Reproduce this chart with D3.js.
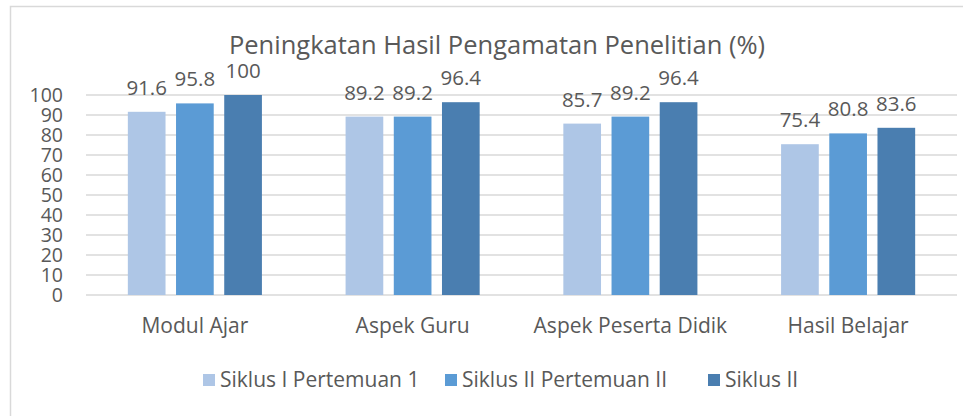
<!DOCTYPE html>
<html>
<head>
<meta charset="utf-8">
<script src="https://cdn.jsdelivr.net/npm/d3@7"></script>
<style>
  body { margin: 0; background: #fff; }
  svg text { font-family: 'Open Sans', sans-serif; fill: #595959; }
</style>
</head>
<body>
<div id="chart"></div>
<script>
const categories = ['Modul Ajar', 'Aspek Guru', 'Aspek Peserta Didik', 'Hasil Belajar'];
const seriesNames = ['Siklus I Pertemuan 1', 'Siklus II Pertemuan II', 'Siklus II'];
const siklus1 = [91.6, 89.2, 85.7, 75.4];
const siklus2p2 = [95.8, 89.2, 89.2, 80.8];
const siklus2 = [100, 96.4, 96.4, 83.6];
const yTicks = [0, 10, 20, 30, 40, 50, 60, 70, 80, 90, 100];

const series = [siklus1, siklus2p2, siklus2];
const colors = ['#AEC6E6', '#5B9BD5', '#4A7EB0'];

const w = 973;
const h = 416;

const svg = d3.select('#chart')
              .append('svg')
              .attr('width', w)
              .attr('height', h);

// chart border (top and left visible)
svg.append('path')
   .attr('d', 'M10.5,416 V6.5 H963')
   .attr('fill', 'none')
   .attr('stroke', '#D9D9D9')
   .attr('stroke-width', 1.5);

svg.append('text')
   .text('Peningkatan Hasil Pengamatan Penelitian (%)')
   .attr('x', 497)
   .attr('y', 54)
   .attr('text-anchor', 'middle')
   .attr('font-size', 25.5);

const x0 = d3.scaleBand()
             .domain(categories)
             .range([86, 957]);
const x1 = d3.scaleBand()
             .domain(d3.range(series.length))
             .range([0, x0.bandwidth()])
             .paddingInner(0.218)
             .paddingOuter(0.868);
const yScale = d3.scaleLinear()
                 .domain([0, 100])
                 .range([295, 95]);

// gridlines
svg.append('g')
   .selectAll('line')
   .data(yTicks)
   .enter()
   .append('line')
   .attr('x1', 86)
   .attr('x2', 957)
   .attr('y1', d => yScale(d))
   .attr('y2', d => yScale(d))
   .attr('stroke', '#D9D9D9')
   .attr('stroke-width', 1.5);

const yAxis = d3.axisLeft(yScale)
                .tickValues(yTicks)
                .tickSize(0)
                .tickPadding(0);
const gy = svg.append('g')
              .attr('transform', 'translate(63, 0)')
              .call(yAxis);
gy.select('.domain').remove();
gy.selectAll('text')
  .attr('font-size', 19.5)
  .attr('font-family', null)
  .attr('fill', null);

const groups = svg.append('g')
                  .selectAll('g')
                  .data(categories)
                  .enter()
                  .append('g')
                  .attr('transform', d => 'translate(' + x0(d) + ',0)');

groups.selectAll('rect')
      .data((d, i) => series.map((s, j) => ({ j: j, v: s[i] })))
      .enter()
      .append('rect')
      .attr('x', d => x1(d.j))
      .attr('width', x1.bandwidth())
      .attr('y', d => yScale(d.v))
      .attr('height', d => yScale(0) - yScale(d.v))
      .attr('fill', d => colors[d.j]);

groups.selectAll('text')
      .data((d, i) => series.map((s, j) => ({ j: j, v: s[i] })))
      .enter()
      .append('text')
      .text(d => d.v)
      .attr('x', d => x1(d.j) + x1.bandwidth() / 2)
      .attr('y', d => yScale(d.v) - 17)
      .attr('text-anchor', 'middle')
      .attr('font-size', 20.5);

const xAxis = d3.axisBottom(x0)
                .tickSize(0)
                .tickPadding(0);
const gx = svg.append('g')
              .attr('transform', 'translate(0, 333)')
              .call(xAxis);
gx.select('.domain').remove();
gx.selectAll('text')
  .attr('dy', 0)
  .attr('font-size', 21)
  .attr('font-family', null)
  .attr('fill', null);

// legend
const legendX = [203, 445, 708];
const legend = svg.append('g')
                  .selectAll('g')
                  .data(seriesNames)
                  .enter()
                  .append('g')
                  .attr('transform', (d, i) => 'translate(' + legendX[i] + ', 374)');
legend.append('rect')
      .attr('width', 12)
      .attr('height', 12)
      .attr('fill', (d, i) => colors[i]);
legend.append('text')
      .text(d => d)
      .attr('x', 17)
      .attr('y', 13)
      .attr('font-size', 21);
</script>
</body>
</html>
